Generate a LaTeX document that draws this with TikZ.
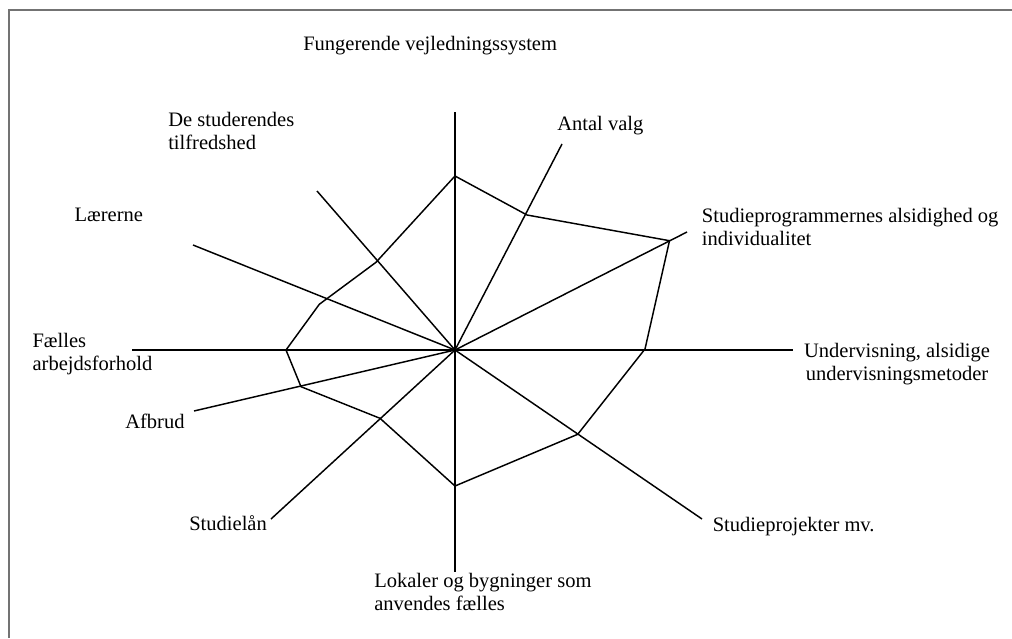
\documentclass[tikz,border=0pt]{standalone}
\usepackage{fontspec}
\setmainfont{Liberation Serif}
\begin{document}
\begin{tikzpicture}[x=0.75pt,y=-0.75pt,
  axis/.style={line width=1.1pt,black},
  web/.style={line width=1.1pt,black,line join=miter},
  frame/.style={line width=1.6pt,black!55},
  lbl/.style={font=\fontsize{15.4}{16.9}\selectfont,inner sep=0pt,anchor=base west},
  lblc/.style={font=\fontsize{15.4}{16.9}\selectfont,inner sep=0pt,anchor=base,align=center},
  lbll/.style={lbl,align=left}]
\useasboundingbox (0,0) rectangle (1012,638);
% frame edges
\coordinate (fl) at (9,638);
\coordinate (fc) at (9,10);
\coordinate (fr) at (1012,10);
\draw[frame] (fl) -- (fc) -- (fr);

% centre and axis ends
\coordinate (c) at (455,350);
\coordinate (a1) at (455,112);
\coordinate (a2) at (562,144);
\coordinate (a3) at (687,232);
\coordinate (a4) at (793,350);
\coordinate (a5) at (702,519);
\coordinate (a6) at (455,572);
\coordinate (a7) at (271,519);
\coordinate (a8) at (194,411);
\coordinate (a9) at (132,350);
\coordinate (a10) at (193,245);
\coordinate (a11) at (317,191);
\foreach \i in {1,...,11} \draw[axis] (c) -- (a\i);

% profile
\coordinate (p1) at (455,176);
\coordinate (p2) at (527,215);
\coordinate (p3) at (669.5,240.7);
\coordinate (p4) at (645,349);
\coordinate (p5) at (577.7,434.3);
\coordinate (p6) at (455,486);
\coordinate (p7) at (380,418.3);
\coordinate (p8) at (301,386.7);
\coordinate (p9) at (286,350);
\coordinate (p10) at (319.3,304.3);
\coordinate (p11) at (376,262.3);
\draw[web] (p1) -- (p2) -- (p3) -- (p4) -- (p5) -- (p6) -- (p7) -- (p8) -- (p9) -- (p10) -- (p11) -- cycle;

% labels (two-line labels are anchored at the baseline of their last line)
\node[lbl] (l1) at (303,51) {Fungerende vejledningssystem};
\node[lbl] (l2) at (557,130.7) {Antal valg};
\node[lbll] (l3) at (701.6,245) {Studieprogrammernes alsidighed og\\individualitet};
\node[lblc] (l4) at (897,380) {Undervisning, alsidige\\undervisningsmetoder};
\node[lbl] (l5) at (712.5,531.7) {Studieprojekter mv.};
\node[lbll] (l6) at (374,610) {Lokaler og bygninger som\\anvendes fælles};
\node[lbl] (l7) at (189,530) {Studielån};
\node[lbl] (l8) at (125,428.3) {Afbrud};
\node[lbll] (l9) at (32.3,370) {Fælles\\arbejdsforhold};
\node[lbl] (l10) at (74.3,221.7) {Lærerne};
\node[lbll] (l11) at (168,149.3) {De studerendes\\tilfredshed};
\end{tikzpicture}
\end{document}
